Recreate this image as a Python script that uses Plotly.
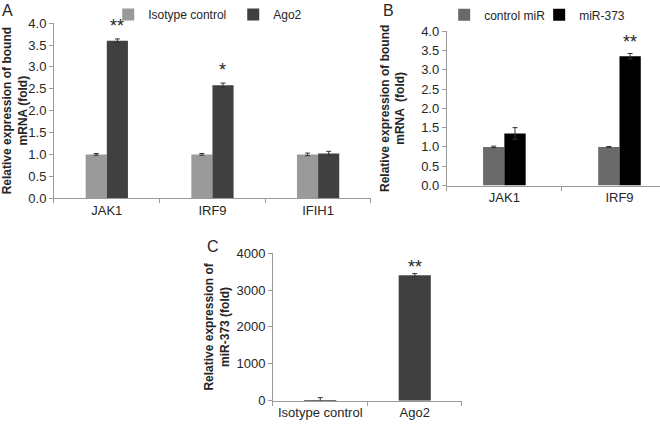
import plotly.graph_objects as go

# Panel A
a_genes = ["JAK1", "IRF9", "IFIH1"]
a_iso = [1.0, 1.0, 1.0]
a_iso_err = [0.02, 0.02, 0.03]
a_ago = [3.60, 2.58, 1.02]
a_ago_err = [0.04, 0.05, 0.05]
a_stars = ["**", "*", ""]

# Panel B
b_genes = ["JAK1", "IRF9"]
b_ctrl = [1.0, 1.0]
b_ctrl_err = [0.02, 0.01]
b_mir = [1.35, 3.35]
b_mir_err = [0.15, 0.07]
b_stars = ["", "**"]

# Panel C
c_groups = ["Isotype control", "Ago2"]
c_vals = [5, 3400]
c_err = [80, 45]
c_stars = ["", "**"]

FONT = "Liberation Sans, Arial, sans-serif"
LIGHT = "#9a9a9a"
DARK = "#404040"
MID = "#6a6a6a"
BLACK = "#000000"
AXC = "#9a9a9a"
TXT = "#262626"

fig = go.Figure()

def err(arr):
    return dict(type="data", array=arr, visible=True, color="#333333", thickness=1, width=2.5)

wA = 0.2
fig.add_bar(x=a_genes, y=a_iso, error_y=err(a_iso_err), name="Isotype control",
            marker=dict(color=LIGHT, line=dict(width=0)), width=wA, offset=-wA,
            xaxis="x", yaxis="y", legend="legend")
fig.add_bar(x=a_genes, y=a_ago, error_y=err(a_ago_err), name="Ago2",
            marker=dict(color=DARK, line=dict(width=0)), width=wA, offset=0,
            xaxis="x", yaxis="y", legend="legend")

wB = 0.185
fig.add_bar(x=b_genes, y=b_ctrl, error_y=err(b_ctrl_err), name="control miR",
            marker=dict(color=MID, line=dict(width=0)), width=wB, offset=-wB,
            xaxis="x2", yaxis="y2", legend="legend2")
fig.add_bar(x=b_genes, y=b_mir, error_y=err(b_mir_err), name="miR-373",
            marker=dict(color=BLACK, line=dict(width=0)), width=wB, offset=0,
            xaxis="x2", yaxis="y2", legend="legend2")

wC = 0.34
fig.add_bar(x=c_groups, y=c_vals, error_y=err(c_err), name="C",
            marker=dict(color=DARK, line=dict(width=0)), width=wC, offset=-wC / 2,
            xaxis="x3", yaxis="y3", showlegend=False)

SF = dict(family=FONT, size=18, color=TXT)
ann = []
for g, v, e, s in zip(a_genes, a_ago, a_ago_err, a_stars):
    if s:
        ann.append(dict(x=g, y=v + e, xref="x", yref="y", text=s, showarrow=False,
                        xshift=10.5, yanchor="bottom", yshift=1, font=SF))
for g, v, e, s in zip(b_genes, b_mir, b_mir_err, b_stars):
    if s:
        ann.append(dict(x=g, y=v + e, xref="x2", yref="y2", text=s, showarrow=False,
                        xshift=10.5, yanchor="bottom", yshift=0, font=SF))
for g, v, e, s in zip(c_groups, c_vals, c_err, c_stars):
    if s:
        ann.append(dict(x=g, y=v + e, xref="x3", yref="y3", text=s, showarrow=False,
                        yanchor="bottom", yshift=-5, font=SF))

for lab, x, y, ys in [("A", 0.0, 1.0, 7), ("B", 0.578, 1.0, 7), ("C", 0.311, 0.44, 3)]:
    ann.append(dict(x=x, y=y, xref="paper", yref="paper", text=lab, showarrow=False,
                    xanchor="left", yanchor="top", yshift=ys,
                    font=dict(family=FONT, size=16, color=TXT)))

tfont = dict(family=FONT, size=12, color=TXT, weight="bold")

yax = dict(showline=True, linecolor=AXC, linewidth=1, ticks="outside", tickcolor=AXC,
           ticklen=4, showgrid=False, zeroline=False,
           tickfont=dict(family=FONT, size=13, color=TXT))
xax = dict(showline=True, linecolor=AXC, linewidth=1, ticks="outside", tickcolor=AXC,
           ticklen=4, tickson="boundaries", showgrid=False, type="category",
           tickfont=dict(family=FONT, size=13, color=TXT))
lfont = dict(family=FONT, size=12, color=TXT)

fig.update_layout(
    width=660, height=430, margin=dict(l=0, r=0, t=0, b=0),
    paper_bgcolor="white", plot_bgcolor="white",
    barmode="overlay",
    font=dict(family=FONT, color=TXT),
    xaxis=dict(xax, domain=[0.0818, 0.562], range=[-0.5, 2.5], anchor="y"),
    yaxis=dict(yax, domain=[0.5395, 0.961], range=[0, 4], dtick=0.5, tickformat=".1f",
               anchor="x", title=dict(text="Relative expression of bound<br>mRNA (fold)",
                                      font=tfont, standoff=2)),
    xaxis2=dict(xax, domain=[0.677, 1.0], range=[-0.5, 1.352], anchor="y2"),
    yaxis2=dict(yax, domain=[0.5698, 0.9419], range=[0, 4], dtick=0.5, tickformat=".1f",
                anchor="x2", title=dict(text="Relative expression of bound<br>mRNA  (fold)",
                                        font=tfont, standoff=13)),
    xaxis3=dict(xax, domain=[0.4136, 0.70], range=[-0.5, 1.5], anchor="y3"),
    yaxis3=dict(yax, domain=[0.0512, 0.407], range=[0, 4000], dtick=1000,
                anchor="x3", title=dict(text="Relative expression of<br>miR-373 (fold)",
                                        font=tfont, standoff=4)),
    legend=dict(orientation="h", x=0.164, y=1.018, xanchor="left", yanchor="top",
                font=lfont, bgcolor="rgba(0,0,0,0)", entrywidth=80,
                itemwidth=30, tracegroupgap=0),
    legend2=dict(orientation="h", x=0.673, y=1.016, xanchor="left", yanchor="top",
                 font=lfont, bgcolor="rgba(0,0,0,0)", entrywidth=50,
                 itemwidth=30, tracegroupgap=0),
    annotations=ann,
)

fig.write_html("out.html", config={"displayModeBar": False},
               post_script="document.body.style.margin='0';")
